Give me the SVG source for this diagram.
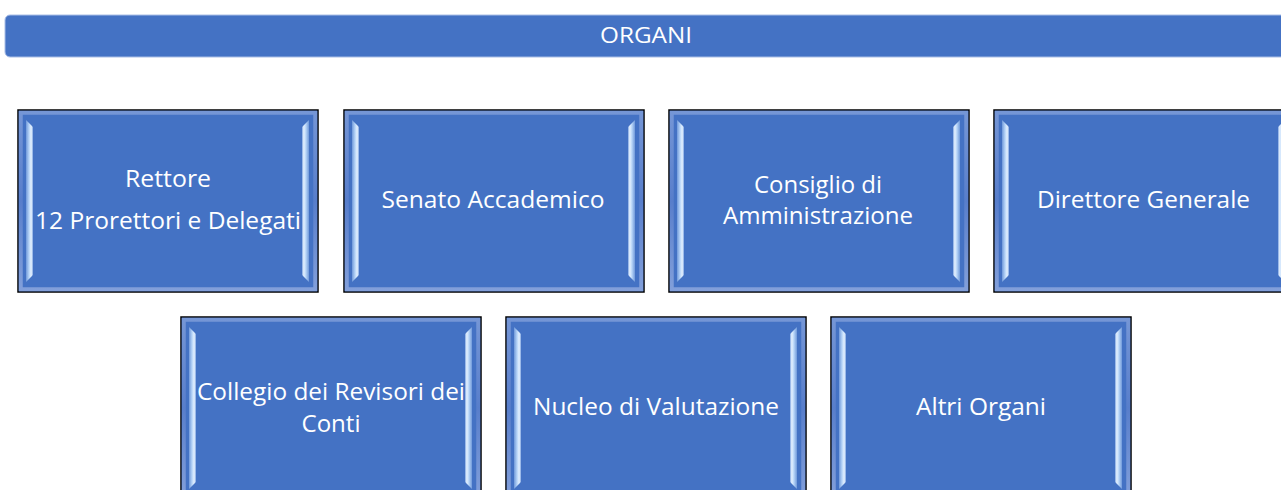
<svg xmlns="http://www.w3.org/2000/svg" width="1281" height="490" viewBox="0 0 1281 490">
<style>
.box{fill:#4472C4;stroke:#000;stroke-width:1.5}
.frame{fill:none;stroke:url(#fg);stroke-width:4}
.sl{fill:url(#sgl)}
.sr{fill:url(#sgr)}
.t{font-family:"Open Sans","Noto Sans",sans-serif;font-size:24px;fill:#fff;text-anchor:middle}
.h{font-family:"Open Sans","Noto Sans",sans-serif;font-size:22px;fill:#fff;text-anchor:middle}
</style>
<defs>
<linearGradient id="sgl" x1="0" y1="0" x2="1" y2="0">
<stop offset="0" stop-color="#7099DA"/>
<stop offset="0.45" stop-color="#B9D6F8"/>
<stop offset="0.75" stop-color="#E6F2FF"/>
<stop offset="1" stop-color="#7FA4E0"/>
</linearGradient>
<linearGradient id="sgr" x1="1" y1="0" x2="0" y2="0">
<stop offset="0" stop-color="#7099DA"/>
<stop offset="0.45" stop-color="#B9D6F8"/>
<stop offset="0.75" stop-color="#E6F2FF"/>
<stop offset="1" stop-color="#7FA4E0"/>
</linearGradient>
<linearGradient id="fg" x1="0" y1="0" x2="0" y2="1">
<stop offset="0" stop-color="#7596D6"/>
<stop offset="0.5" stop-color="#587ECB"/>
<stop offset="1" stop-color="#829FDA"/>
</linearGradient>
<symbol id="bev" viewBox="0 0 300 182" width="300" height="182" overflow="visible">
<rect class="box" x="0" y="0" width="300" height="182"/>
<rect class="frame" x="2.75" y="2.75" width="294.5" height="176.5"/>
<polygon class="sl" points="8,10 15,17 15,165 8,172"/>
<polygon class="sr" points="291,10 284,17 284,165 291,172"/>
</symbol>
</defs>
<rect width="1281" height="490" fill="#fff"/>
<g id="header">
<rect x="5" y="15" width="1290" height="42" rx="5" fill="#4472C4" stroke="#A9BEE6" stroke-width="1"/>
<text class="h" x="646" y="43" textLength="92" lengthAdjust="spacingAndGlyphs">ORGANI</text>
</g>
<g id="connectors"></g>
<g id="rettore">
<use href="#bev" x="18" y="110"/>
<text class="t" x="168" y="187" textLength="86" lengthAdjust="spacingAndGlyphs">Rettore</text>
<text class="t" x="168" y="229" textLength="266" lengthAdjust="spacingAndGlyphs">12 Prorettori e Delegati</text>
</g>
<g id="senato">
<use href="#bev" x="344" y="110"/>
<text class="t" x="493" y="208" textLength="223" lengthAdjust="spacingAndGlyphs">Senato Accademico</text>
</g>
<g id="consiglio">
<use href="#bev" x="669" y="110"/>
<text class="t" x="818" y="193" textLength="128" lengthAdjust="spacingAndGlyphs">Consiglio di</text>
<text class="t" x="818" y="224" textLength="190" lengthAdjust="spacingAndGlyphs">Amministrazione</text>
</g>
<g id="direttore">
<use href="#bev" x="994" y="110"/>
<text class="t" x="1143.5" y="208" textLength="213" lengthAdjust="spacingAndGlyphs">Direttore Generale</text>
</g>
<g id="collegio">
<use href="#bev" x="181" y="317"/>
<text class="t" x="331" y="400" textLength="268" lengthAdjust="spacingAndGlyphs">Collegio dei Revisori dei</text>
<text class="t" x="331" y="432" textLength="59" lengthAdjust="spacingAndGlyphs">Conti</text>
</g>
<g id="nucleo">
<use href="#bev" x="506" y="317"/>
<text class="t" x="656" y="415" textLength="246" lengthAdjust="spacingAndGlyphs">Nucleo di Valutazione</text>
</g>
<g id="altri">
<use href="#bev" x="831" y="317"/>
<text class="t" x="981" y="415" textLength="130" lengthAdjust="spacingAndGlyphs">Altri Organi</text>
</g>
</svg>
